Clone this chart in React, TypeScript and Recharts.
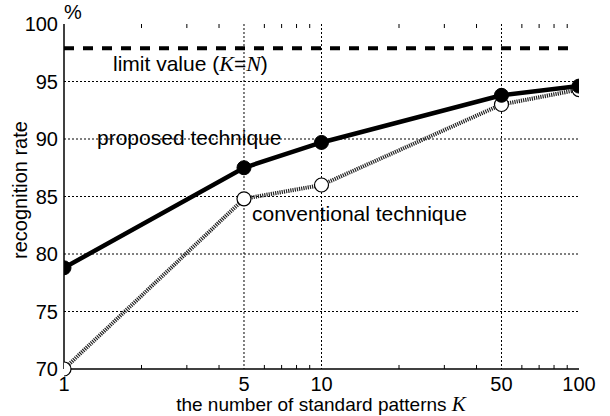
import React from "react";
import {
  LineChart,
  Line,
  XAxis,
  YAxis,
  CartesianGrid,
  ReferenceLine,
} from "recharts";

const patternCounts = [1, 5, 10, 50, 100];
const proposedRates = [78.8, 87.5, 89.7, 93.8, 94.6];
const conventionalRates = [70.0, 84.8, 86.0, 93.0, 94.3];
const limitValue = 97.9;
const yTicks = [70, 75, 80, 85, 90, 95, 100];
const minorTicks = [2, 3, 4, 6, 7, 8, 9, 20, 30, 40, 60, 70, 80, 90];

const data = patternCounts.map((k, i) => ({
  k,
  proposed: proposedRates[i],
  conventional: conventionalRates[i],
}));

const FONT = "'Liberation Sans', Arial, sans-serif";
const SERIF = "'Liberation Serif', 'Times New Roman', serif";

function FilledDot(props: any) {
  const { cx, cy } = props;
  return <circle cx={cx} cy={cy} r={7} fill="#000" stroke="#000" strokeWidth={1} />;
}

function OpenDot(props: any) {
  const { cx, cy } = props;
  return <circle cx={cx} cy={cy} r={7} fill="#fff" stroke="#000" strokeWidth={1.2} />;
}

export default function App() {
  return (
    <div style={{ position: "fixed", left: 0, top: 0, width: 610, height: 416, background: "#fff" }}>
      <LineChart
        width={610}
        height={416}
        data={data}
        margin={{ top: 24, right: 31, bottom: 0, left: 0 }}
      >
        <CartesianGrid
          stroke="#000"
          strokeDasharray="2 2"
          strokeWidth={1}
          horizontalValues={[75, 80, 85, 90, 95]}
          verticalValues={[5, 10, 50]}
        />
        <XAxis
          dataKey="k"
          type="number"
          scale="log"
          domain={[1, 100]}
          ticks={patternCounts}
          allowDataOverflow
          height={47}
          tickSize={0}
          tickMargin={8}
          axisLine={{ stroke: "#000", strokeWidth: 1.5 }}
          tick={{ fill: "#000", fontSize: 20, fontFamily: FONT }}
        />
        <XAxis
          xAxisId="top"
          dataKey="k"
          type="number"
          scale="log"
          domain={[1, 100]}
          orientation="top"
          height={0}
          tick={false}
          tickLine={false}
          axisLine={{ stroke: "#000", strokeWidth: 1.5 }}
        />
        <YAxis
          type="number"
          domain={[70, 100]}
          ticks={yTicks}
          width={64}
          tickSize={0}
          tickMargin={6}
          interval={0}
          axisLine={{ stroke: "#000", strokeWidth: 1.5 }}
          tick={{ fill: "#000", fontSize: 20, fontFamily: FONT }}
        />
        <YAxis
          yAxisId="right"
          orientation="right"
          type="number"
          domain={[70, 100]}
          width={0}
          tick={false}
          tickLine={false}
          axisLine={{ stroke: "#000", strokeWidth: 1.5 }}
        />
        {minorTicks.map((t) => (
          <ReferenceLine
            key={"b" + t}
            segment={[
              { x: t, y: 70 },
              { x: t, y: 70.35 },
            ]}
            stroke="#000"
            strokeWidth={1}
          />
        ))}
        {minorTicks.map((t) => (
          <ReferenceLine
            key={"t" + t}
            segment={[
              { x: t, y: 100 },
              { x: t, y: 99.65 },
            ]}
            stroke="#000"
            strokeWidth={1}
          />
        ))}
        <ReferenceLine
          segment={[
            { x: 1, y: limitValue },
            { x: 96, y: limitValue },
          ]}
          stroke="#000"
          strokeWidth={4}
          strokeDasharray="10 9"
        />
        <Line
          dataKey="conventional"
          stroke="#222"
          strokeWidth={4}
          strokeDasharray="1.2 1"
          dot={<OpenDot />}
          isAnimationActive={false}
        />
        <Line
          dataKey="proposed"
          stroke="#000"
          strokeWidth={4.5}
          dot={<FilledDot />}
          isAnimationActive={false}
        />
        <text x={64} y={19} fontSize={20} fontFamily={FONT} fill="#000">%</text>
        <text x={113} y={71} fontSize={21} fontFamily={FONT} fill="#000">
          limit value (<tspan fontFamily={SERIF} fontStyle="italic" fontSize={22}>K</tspan>=<tspan fontFamily={SERIF} fontStyle="italic" fontSize={22}>N</tspan>)
        </text>
        <text x={97} y={145} fontSize={21} fontFamily={FONT} fill="#000">proposed technique</text>
        <text x={252} y={221} fontSize={21} fontFamily={FONT} fill="#000">conventional technique</text>
        <text
          x={20}
          y={190}
          fontSize={20}
          fontFamily={FONT}
          fill="#000"
          textAnchor="middle"
          dominantBaseline="central"
          transform="rotate(-90 20 190)"
        >
          recognition rate
        </text>
        <text x={321} y={411} fontSize={19} fontFamily={FONT} fill="#000" textAnchor="middle">
          the number of standard patterns <tspan fontFamily={SERIF} fontStyle="italic" fontSize={21}>K</tspan>
        </text>
      </LineChart>
    </div>
  );
}
